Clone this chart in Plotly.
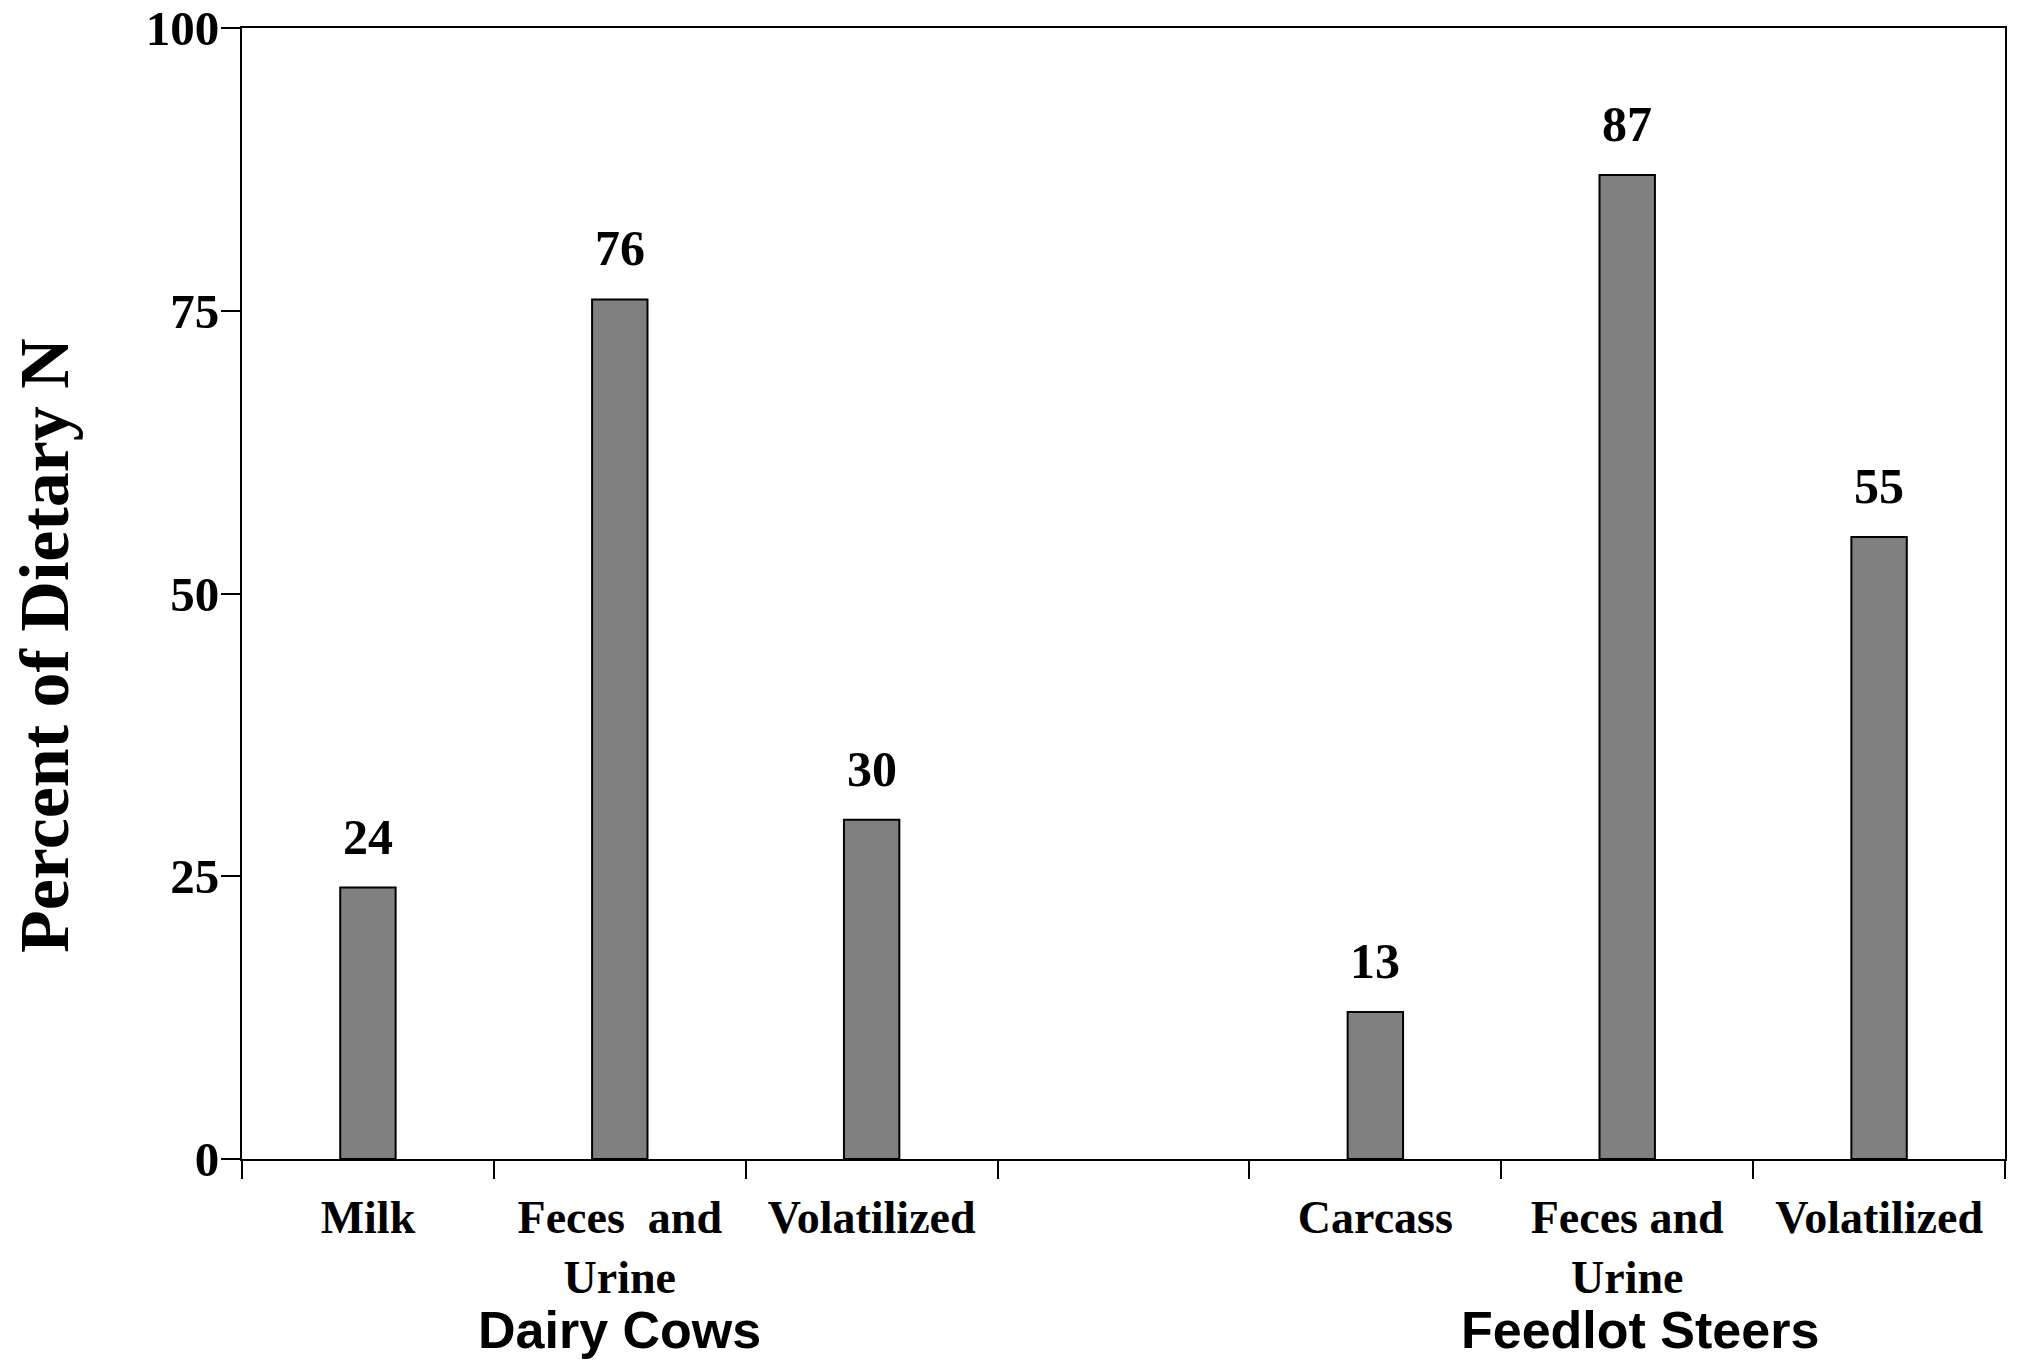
import plotly.graph_objects as go

categories = ["Milk", "Feces\u00a0 and<br>Urine", "Volatilized", "",
              "Carcass", "Feces and<br>Urine", "Volatilized"]
values = [24, 76, 30, None, 13, 87, 55]
value_labels = ["24", "76", "30", "", "13", "87", "55"]
groups = ["Dairy Cows", "Feedlot Steers"]
group_pos = [1, 5.05]
y_ticks = [0, 25, 50, 75, 100]
y_title = "Percent of Dietary N"

xs = list(range(len(categories)))
serif = "Liberation Serif, Times New Roman, serif"
sans = "Liberation Sans, Arial, sans-serif"

fig = go.Figure()
fig.add_trace(go.Bar(
    x=xs, y=values, width=0.22,
    marker=dict(color="#808080", line=dict(color="black", width=2)),
    showlegend=False, hoverinfo="skip",
))

for x, v, t in zip(xs, values, value_labels):
    if v is None:
        continue
    fig.add_annotation(x=x, y=v, text=f"<b>{t}</b>", showarrow=False,
                       yanchor="middle", yshift=51,
                       font=dict(family=serif, size=50, color="black"))

for g, gx in zip(groups, group_pos):
    fig.add_annotation(x=gx, xref="x", y=-0.151, yref="paper", text=f"<b>{g}</b>",
                       showarrow=False, yanchor="middle",
                       font=dict(family=sans, size=52, color="black"))

fig.add_annotation(x=0, xref="paper", xshift=-197, y=0.4536, yref="paper",
                   text=f"<b>{y_title}</b>", textangle=-90, showarrow=False,
                   xanchor="center", yanchor="middle",
                   font=dict(family=serif, size=70, color="black"))

fig.update_layout(
    width=2026, height=1361,
    margin=dict(l=242, r=21, t=28, b=202),
    plot_bgcolor="white", paper_bgcolor="white",
    xaxis=dict(
        range=[-0.5, 6.5], tickmode="array", tickvals=xs,
        ticktext=[f"<b>{c}</b>" if c else "" for c in categories],
        ticks="", showgrid=False, zeroline=False, automargin=False,
        showline=True, linecolor="black", linewidth=2, mirror=True,
        tickfont=dict(family=serif, size=46, color="black"),
        ticklabelstandoff=17, ticklabeloverflow="allow",
        minor=dict(tick0=-0.5, dtick=1, ticks="outside", ticklen=18,
                   tickwidth=2, tickcolor="black", showgrid=False),
    ),
    yaxis=dict(
        range=[0, 100], tickmode="array", tickvals=y_ticks,
        ticktext=[f"<b>{v}</b>" for v in y_ticks],
        ticks="outside", ticklen=19, tickwidth=2, tickcolor="black",
        showgrid=False, zeroline=False, automargin=False,
        ticklabeloverflow="allow", ticklabelstandoff=-8,
        showline=True, linecolor="black", linewidth=2, mirror=True,
        tickfont=dict(family=serif, size=49, color="black"),
    ),
)

fig.write_html("out.html", config={"displayModeBar": False},
               post_script="document.body.style.margin='0';")
